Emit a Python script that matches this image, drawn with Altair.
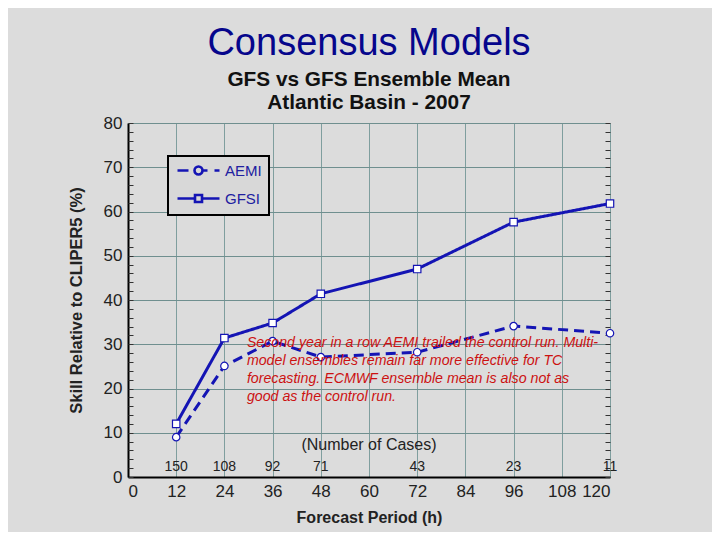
import altair as alt
import pandas as pd

hours = [12, 24, 36, 48, 72, 96, 120]
gfsi = [12.0, 31.4, 34.8, 41.4, 47.0, 57.6, 61.8]
aemi = [9.0, 25.1, 30.7, 27.1, 28.2, 34.1, 32.5]
cases = [150, 108, 92, 71, 43, 23, 11]
series_names = ["AEMI", "GFSI"]

note = ["Second year in a row AEMI trailed the control run.  Multi-",
        "model ensembles remain far more effective for TC",
        "forecasting.  ECMWF ensemble mean is also not as",
        "good as the control run."]

rows = []
for h, v in zip(hours, aemi):
    rows.append({"hour": h, "skill": v, "model": "AEMI"})
for h, v in zip(hours, gfsi):
    rows.append({"hour": h, "skill": v, "model": "GFSI"})
df = pd.DataFrame(rows)

case_df = pd.DataFrame({"hour": hours, "n": [str(c) for c in cases], "y": [2.2] * len(hours)})
hdr_df = pd.DataFrame({"hour": [60], "y": [7.2], "t": ["(Number of Cases)"]})
note_df = pd.DataFrame({"hour": [29.6], "y": [31.9], "t": [note]})

BLUE = "#1414b4"
FONT = "Liberation Sans"

# legend symbols: line with marker (custom SVG paths)
AEMI_SYM = ("M-4.2,0H-2.0 M1.0,0H1.8 M3.2,0H4.2 "
            "M-0.8,0A0.8,0.8 0 1,0 0.8,0A0.8,0.8 0 1,0 -0.8,0Z")
GFSI_SYM = "M-4.2,0H-0.7 M0.7,0H4.2 M-0.7,-0.7H0.7V0.7H-0.7Z"

xs = alt.Scale(domain=[0, 120], nice=False)
ys = alt.Scale(domain=[0, 80], nice=False)

x_enc = alt.X("hour:Q", scale=xs,
              axis=alt.Axis(title="Forecast Period (h)", values=list(range(0, 121, 12)),
                            grid=True, gridColor="#7f9e9e", gridWidth=1,
                            domainColor="black", domainWidth=2, ticks=False,
                            labelFontSize=17, labelColor="#222222", labelPadding=6,
                            titleFontSize=16, titleFontWeight="bold", titlePadding=10,
                            titleColor="#222222"))
y_enc = alt.Y("skill:Q", scale=ys,
              axis=alt.Axis(title="Skill Relative to CLIPER5 (%)", values=list(range(0, 81, 10)),
                            grid=True, gridColor="#6f8f8f", gridWidth=1,
                            domainColor="black", domainWidth=2, ticks=False,
                            labelFontSize=17, labelColor="#222222", labelPadding=6,
                            titleFontSize=16.5, titleFontWeight="bold", titlePadding=19,
                            titleColor="#222222"))

lines = alt.Chart(df).mark_line(strokeWidth=3, color=BLUE).encode(
    x=x_enc, y=y_enc,
    strokeDash=alt.StrokeDash("model:N", scale=alt.Scale(domain=series_names, range=[[10, 6], [1, 0]]),
                              legend=None),
)
pts = alt.Chart(df).mark_point(filled=True, fill="white", stroke=BLUE, strokeWidth=1.2, size=55, opacity=1).encode(
    x="hour:Q", y="skill:Q",
    shape=alt.Shape("model:N", scale=alt.Scale(domain=series_names, range=["circle", "square"]),
                    legend=None),
)

case_txt = alt.Chart(case_df).mark_text(fontSize=14, color="#222222", font=FONT).encode(
    x="hour:Q", y="y:Q", text="n:N")
hdr_txt = alt.Chart(hdr_df).mark_text(fontSize=16, color="#222222", font=FONT).encode(
    x="hour:Q", y="y:Q", text="t:N")
note_txt = alt.Chart(note_df).mark_text(fontSize=14.2, color="#cc1111", font=FONT, fontStyle="italic",
                                        align="left", baseline="top", lineHeight=18).encode(
    x="hour:Q", y="y:Q", text="t")

inner = alt.layer(lines, pts, case_txt, hdr_txt, note_txt)

legend_layer = alt.Chart(df).transform_filter("false").mark_point(
    filled=False, color=BLUE, strokeWidth=2.4, size=100, opacity=1
).encode(
    x="hour:Q",
    y=alt.Y("skill:Q", axis=None),
    shape=alt.Shape("model:N", scale=alt.Scale(domain=series_names, range=[AEMI_SYM, GFSI_SYM]),
                    legend=alt.Legend(title=None, orient="none", legendX=40, legendY=33,
                                      symbolSize=100, symbolStrokeWidth=2.6, symbolOpacity=1,
                                      symbolOffset=16, labelOffset=19)),
)

tick_left = alt.Chart(df).mark_point(opacity=0).encode(
    x="hour:Q",
    y=alt.Y("skill:Q", axis=alt.Axis(orient="left", values=list(range(0, 81, 2)), labels=False,
                                     domain=False, grid=False, ticks=True, tickSize=5, offset=-5,
                                     tickColor="#333333", tickWidth=1, title=None)),
)
tick_right = alt.Chart(df).mark_point(opacity=0).encode(
    x="hour:Q",
    y=alt.Y("skill:Q", axis=alt.Axis(orient="right", values=list(range(0, 81, 2)), labels=False,
                                     domain=False, grid=False, ticks=True, tickSize=5, offset=-5,
                                     tickColor="#333333", tickWidth=1, title=None)),
)

chart = alt.layer(inner, legend_layer, tick_left, tick_right).resolve_scale(
    shape="independent"
).resolve_axis(y="independent").properties(
    width=482, height=354,
    background="#dcdcdc",
    autosize=alt.AutoSizeParams(type="none"),
    padding={"left": 120, "top": 115, "right": 102, "bottom": 55},
    title=alt.Title(text="Consensus Models",
                    subtitle=["GFS vs GFS Ensemble Mean", "Atlantic Basin - 2007"],
                    fontSize=38, color="#06068c", font=FONT, fontWeight="normal",
                    subtitleFontSize=20.8, subtitleFontWeight="bold", subtitleColor="#111111",
                    subtitleFont=FONT, subtitlePadding=7, subtitleLineHeight=23,
                    anchor="middle", offset=1),
).configure_view(
    fill="#cdeceb", stroke="#333333", strokeWidth=1
).configure(font=FONT).configure_legend(
    fillColor="#d8d8d8", strokeColor="black", strokeWidth=2, padding=7,
    labelFontSize=15, labelColor="#2020a0", labelFont=FONT, rowPadding=9
)

chart.save("out.html", embed_options={"renderer": "svg", "actions": False})
